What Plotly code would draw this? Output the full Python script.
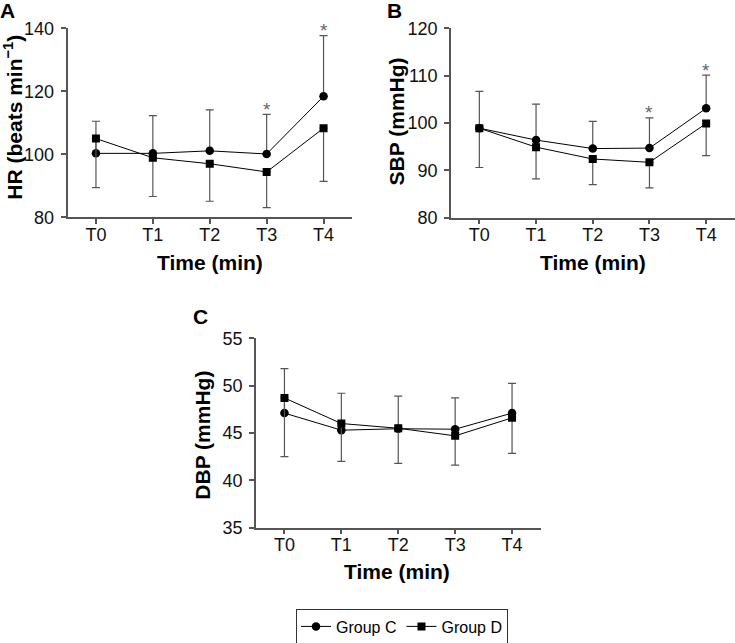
import plotly.graph_objects as go

W, H = 735, 643

time_labels = ["T0", "T1", "T2", "T3", "T4"]

# Panel A: HR
hr_c = [100.3, 100.3, 101.1, 100.1, 118.4]
hr_d = [105.0, 98.9, 97.0, 94.4, 108.3]
hr_c_up = [10.2, 12.0, 13.0, 12.6, 19.3]      # upper SD bars (Group C)
hr_d_down = [15.6, 12.3, 11.9, 11.3, 16.9]    # lower SD bars (Group D)

# Panel B: SBP
sbp_c = [98.9, 96.4, 94.6, 94.7, 103.1]
sbp_d = [98.9, 94.9, 92.4, 91.7, 99.9]
sbp_c_up = [7.8, 7.6, 5.75, 6.4, 7.0]
sbp_d_down = [8.3, 6.7, 5.4, 5.4, 6.8]

# Panel C: DBP
dbp_c = [47.1, 45.3, 45.45, 45.4, 47.1]
dbp_d = [48.7, 46.0, 45.5, 44.7, 46.6]
dbp_c_up = [4.7, 3.9, 3.45, 3.3, 3.15]
dbp_d_down = [6.2, 4.0, 3.7, 3.1, 3.75]

sig_points = ["T3", "T4"]  # asterisks (panels A and B)

FONT = "Liberation Sans, Arial, sans-serif"
AXC = "#555555"
ERRC = "#555555"


def px_x(p):
    return p / W


def px_y(p):
    return 1 - p / H


panels = [
    dict(key="A", xd=(67.5, 352), yd=(28.3, 217.3), yr=(80, 140), dt=20,
         c=hr_c, d=hr_d, cu=hr_c_up, dd=hr_d_down,
         ytitle="HR (beats min<sup>−1</sup>)", ytx=12.7, yty=117,
         xtx=210, xty=262, lx=7.5, ly=10.5, stars=True),
    dict(key="B", xd=(451, 734.5), yd=(28.3, 217.7), yr=(80, 120), dt=10,
         c=sbp_c, d=sbp_d, cu=sbp_c_up, dd=sbp_d_down,
         ytitle="SBP (mmHg)", ytx=396.7, yty=121.7,
         xtx=593, xty=262, lx=394.5, ly=10.5, stars=True),
    dict(key="C", xd=(256, 540.5), yd=(338.3, 527.7), yr=(35, 55), dt=5,
         c=dbp_c, d=dbp_d, cu=dbp_c_up, dd=dbp_d_down,
         ytitle="DBP (mmHg)", ytx=201.7, yty=435,
         xtx=397, xty=571.7, lx=200.5, ly=316.5, stars=False),
]

fig = go.Figure()
annotations = []
layout_axes = {}

for i, p in enumerate(panels):
    n = "" if i == 0 else str(i + 1)
    xa, ya = "x" + n, "y" + n
    first = i == 0
    fig.add_trace(go.Scatter(
        x=time_labels, y=p["c"], mode="lines+markers", name="Group C",
        xaxis=xa, yaxis=ya, showlegend=first, legendgroup="C",
        line=dict(color="black", width=1),
        marker=dict(symbol="circle", size=8.5, color="black"),
        error_y=dict(type="data", symmetric=False, array=p["cu"],
                     arrayminus=[0] * 5, color=ERRC, thickness=1.2, width=4),
    ))
    fig.add_trace(go.Scatter(
        x=time_labels, y=p["d"], mode="lines+markers", name="Group D",
        xaxis=xa, yaxis=ya, showlegend=first, legendgroup="D",
        line=dict(color="black", width=1),
        marker=dict(symbol="square", size=8, color="black"),
        error_y=dict(type="data", symmetric=False, array=[0] * 5,
                     arrayminus=p["dd"], color=ERRC, thickness=1.2, width=4),
    ))
    layout_axes["xaxis" + n] = dict(
        domain=[px_x(p["xd"][0]), px_x(p["xd"][1])], anchor=ya,
        range=[-0.5, 4.5], showline=True, linecolor=AXC, linewidth=1.5,
        ticks="outside", ticklen=5, tickcolor=AXC, tickwidth=1.5,
        showgrid=False, zeroline=False, ticklabelstandoff=-5,
        tickfont=dict(family=FONT, size=18, color="#111111"),
    )
    layout_axes["yaxis" + n] = dict(
        domain=[px_y(p["yd"][1]), px_y(p["yd"][0])], anchor=xa,
        range=list(p["yr"]), dtick=p["dt"], tick0=p["yr"][0],
        showline=True, linecolor=AXC, linewidth=1.5,
        ticks="outside", ticklen=5, tickcolor=AXC, tickwidth=1.5,
        showgrid=False, zeroline=False, ticklabelstandoff=3,
        tickfont=dict(family=FONT, size=18, color="#111111"),
    )
    # axis titles
    annotations.append(dict(
        text=p["ytitle"], xref="paper", yref="paper",
        x=px_x(p["ytx"]), y=px_y(p["yty"]), xanchor="center", yanchor="middle",
        textangle=-90, showarrow=False,
        font=dict(family=FONT, size=21, color="black", weight="bold"),
    ))
    annotations.append(dict(
        text="<b>Time (min)</b>", xref="paper", yref="paper",
        x=px_x(p["xtx"]), y=px_y(p["xty"]), xanchor="center", yanchor="middle",
        showarrow=False, font=dict(family=FONT, size=21, color="black"),
    ))
    # panel letter
    annotations.append(dict(
        text="<b>%s</b>" % p["key"], xref="paper", yref="paper",
        x=px_x(p["lx"]), y=px_y(p["ly"]), xanchor="center", yanchor="middle",
        showarrow=False, font=dict(family=FONT, size=21, color="black"),
    ))
    if p["stars"]:
        for t in sig_points:
            k = time_labels.index(t)
            annotations.append(dict(
                text="*", xref=xa, yref=ya, x=t, y=p["c"][k] + p["cu"][k],
                xanchor="center", yanchor="middle", yshift=5, showarrow=False,
                font=dict(family=FONT, size=19, color="#666666"),
            ))

fig.update_layout(
    width=W, height=H,
    margin=dict(l=0, r=0, t=0, b=0, autoexpand=False),
    paper_bgcolor="white", plot_bgcolor="white",
    font=dict(family=FONT, color="black"),
    annotations=annotations,
    showlegend=True,
    legend=dict(
        orientation="h", x=px_x(402), xanchor="center",
        y=px_y(626.5), yanchor="middle",
        bordercolor="#333333", borderwidth=1,
        font=dict(family=FONT, size=16, color="black"),
        itemwidth=30, tracegroupgap=0,
    ),
    **layout_axes,
)

fig.write_html("out.html", config={"displayModeBar": False},
               post_script="document.body.style.margin='0';")
